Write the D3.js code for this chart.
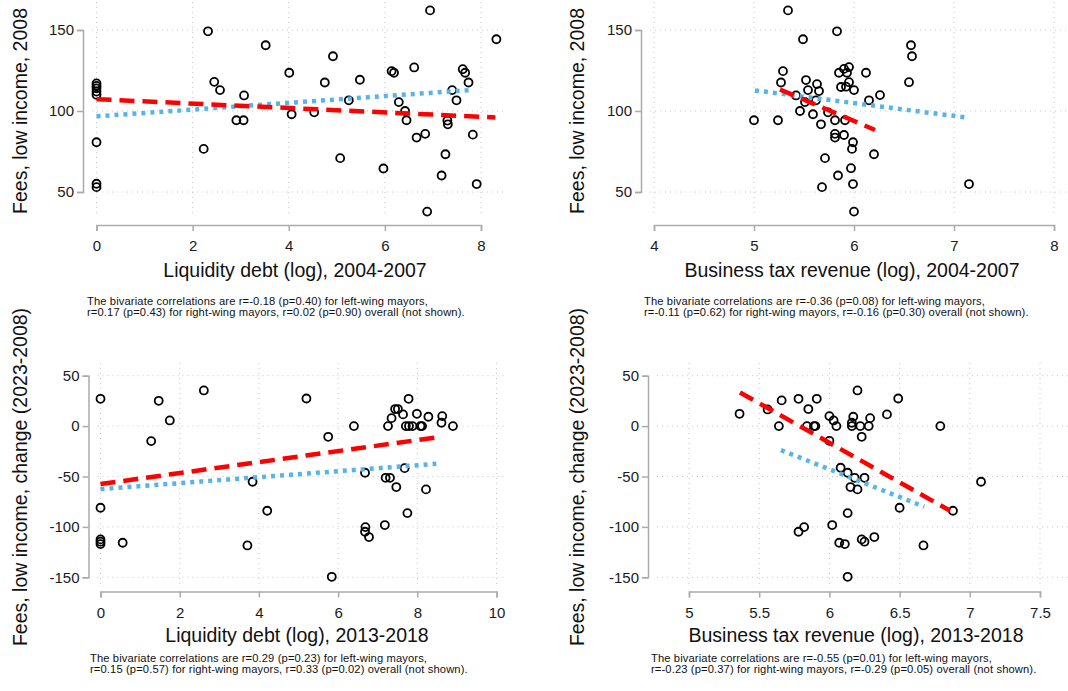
<!DOCTYPE html>
<html>
<head>
<meta charset="utf-8">
<script src="https://cdn.jsdelivr.net/npm/d3@7"></script>
<style>
  html, body { margin: 0; padding: 0; background: #fff; }
  svg { display: block; font-family: "Liberation Sans", Arial, Helvetica, sans-serif; }
  .tick text { fill: #1a1a1a; }
</style>
</head>
<body>
<svg id="chart" width="1068" height="691"></svg>
<script>
// ---- Data: municipalities, fees for low-income households ----

// Liquidity debt (log), 2004-2007 vs fees 2008
const liqDebt0407 = [0, 0, 0, 0, 0, 0, 0, 0, 2.23, 2.32, 2.45, 2.57, 2.91, 3.06, 3.07, 3.52, 4.01, 4.06, 4.53, 4.75,
  4.92, 5.07, 5.25, 5.48, 5.97, 6.14, 6.19, 6.29, 6.42, 6.45, 6.61, 6.66, 6.84, 6.88, 6.94, 7.18, 7.26, 7.30, 7.31,
  7.40, 7.49, 7.62, 7.67, 7.74, 7.83, 7.91, 8.32];
const fees2008A = [117, 115.5, 114, 112, 110, 80.7, 55.1, 53, 76.6, 149.2, 118, 112.9, 94.3, 94.3, 109.6, 140.6, 123.6,
  98, 99.2, 117.6, 133.8, 70.9, 106.6, 119.3, 64.5, 124.6, 123.6, 105.5, 100, 94.3, 126.9, 83.6, 85.9, 37.9, 162.1,
  60.2, 73.3, 94.1, 91.8, 112.9, 106.6, 125.8, 123.6, 117.6, 85.4, 54.9, 144.3];

// Business tax revenue (log), 2004-2007 vs fees 2008
const bizTax0407 = [5.0, 5.24, 5.27, 5.29, 5.34, 5.42, 5.46, 5.49, 5.51, 5.52, 5.54, 5.59, 5.62, 5.63, 5.65, 5.67,
  5.71, 5.68, 5.74, 5.81, 5.81, 5.81, 5.83, 5.84, 5.85, 5.87, 5.9, 5.9, 5.91, 5.92, 5.93, 5.95, 5.95, 5.97, 5.98,
  5.99, 5.99, 6.0, 6.0, 6.12, 6.15, 6.2, 6.26, 6.55, 6.57, 6.58, 7.15];
const fees2008B = [94.3, 94.3, 117.6, 124.6, 162.1, 109.6, 100, 144.3, 105.5, 119.1, 112.9, 98, 106.6, 116.6, 112.3,
  91.8, 70.9, 53, 99.2, 94.3, 85.9, 83.6, 149.2, 60.2, 123.6, 114.8, 85.2, 126, 94.3, 115, 123.6, 117.8, 127.1, 64.7,
  76.6, 54.9, 80.7, 37.9, 112.9, 123.6, 106.6, 73.3, 109.8, 117.8, 140.6, 133.8, 54.9];

// Liquidity debt (log), 2013-2018 vs change in fees 2008-2023
const liqDebt1318 = [0, 0, 0, 0, 0, 0.56, 1.28, 1.47, 1.75, 2.61, 3.71, 3.84, 4.21, 5.2, 5.75, 5.84, 6.4, 6.68, 6.69,
  6.68, 6.78, 7.18, 7.2, 7.26, 7.31, 7.35, 7.44, 7.47, 7.51, 7.64, 7.68, 7.71, 7.75, 7.78, 7.79, 7.88, 7.99, 8.08,
  8.12, 8.22, 8.28, 8.61, 8.63, 8.9];
const feeChangeC = [27.1, -81, -112.4, -114.7, -117, -115.7, -14.9, 25.1, 5.6, 35.4, -118.4, -55.2, -84, 27.4, -10.6,
  -149.5, 0, -46.3, -100.2, -104.8, -110.1, -98.2, -51.3, 0, -51.3, 7.9, 16.9, -60.5, 16.9, 11.6, -41.7, 0, -86.3,
  27.1, 0, 0, 12.2, 0, 0, -62.8, 9.3, 3.3, 9.9, 0];

// Business tax revenue (log), 2013-2018 vs change in fees 2008-2023
const bizTax1318 = [5.36, 5.56, 5.64, 5.66, 5.78, 5.78, 5.82, 5.85, 5.84, 5.89, 5.9, 5.91, 6.0, 6.0, 6.02, 6.03, 6.05,
  6.07, 6.08, 6.11, 6.13, 6.13, 6.13, 6.15, 6.16, 6.16, 6.17, 6.18, 6.2, 6.2, 6.22, 6.23, 6.23, 6.25, 6.25, 6.28,
  6.29, 6.32, 6.41, 6.49, 6.5, 6.67, 6.79, 6.88, 7.08];
const feeChangeD = [12.2, 16.5, 0, 25.5, 27.1, -104.8, -100.2, 16.9, 0, 0, 0, 27.1, -14.6, 9.9, -98.2, 5.6, 0, -115.7,
  -41.3, -117, -86.3, -46.3, -149.5, -60.5, 0, 3.3, 9.3, -51.3, 35.4, -62.8, 0, -10.6, -112.4, -114.7, -51.3, 0, 7.9,
  -110.1, 11.6, 27.4, -81, -118.4, 0, -84, -55.2];

// Linear fits by mayor's party: [x start, y start, x end, y end]
const fitLeftA = [0, 107.3, 8.3, 96];
const fitRightA = [0, 96.7, 7.76, 112.9];
const fitLeftB = [5.26, 113.3, 6.21, 88.3];
const fitRightB = [5.01, 112.7, 7.11, 96.1];
const fitLeftC = [0, -57.5, 8.6, -10.6];
const fitRightC = [0, -62.5, 8.48, -37.4];
const fitLeftD = [5.363, 33.4, 6.86, -84];
const fitRightD = [5.655, -23.8, 6.676, -80];

// Tick values
const ticksXA = [0, 2, 4, 6, 8];
const ticksXB = [4, 5, 6, 7, 8];
const ticksXC = [0, 2, 4, 6, 8, 10];
const ticksXD = [5, 5.5, 6, 6.5, 7, 7.5];
const ticksYTop = [50, 100, 150];
const ticksYBottom = [-150, -100, -50, 0, 50];

// Text
const xTitles = ["Liquidity debt (log), 2004-2007", "Business tax revenue (log), 2004-2007",
  "Liquidity debt (log), 2013-2018", "Business tax revenue (log), 2013-2018"];
const yTitles = ["Fees, low income, 2008", "Fees, low income, 2008",
  "Fees, low income, change (2023-2008)", "Fees, low income, change (2023-2008)"];
const notes = [
  ["The bivariate correlations are r=-0.18 (p=0.40) for left-wing mayors,",
   "r=0.17 (p=0.43) for right-wing mayors, r=0.02 (p=0.90) overall (not shown)."],
  ["The bivariate correlations are r=-0.36 (p=0.08) for left-wing mayors,",
   "r=-0.11 (p=0.62) for right-wing mayors, r=-0.16 (p=0.30) overall (not shown)."],
  ["The bivariate correlations are r=0.29 (p=0.23) for left-wing mayors,",
   "r=0.15 (p=0.57) for right-wing mayors, r=0.33 (p=0.02) overall (not shown)."],
  ["The bivariate correlations are r=-0.55 (p=0.01) for left-wing mayors,",
   "r=-0.23 (p=0.37) for right-wing mayors, r=-0.29 (p=0.05) overall (not shown)."]
];

// ---- Layout of the four panels ----
const panels = [
  { xs: liqDebt0407, ys: fees2008A, fitL: fitLeftA, fitR: fitRightA, xTicks: ticksXA, yTicks: ticksYTop,
    xDom: [0, 8], xRange: [96.5, 481], yDom: [50, 150], yRange: [192, 30],
    axisX: 83, axisY: 225, plotTop: 2, plotRight: 505, gridBottom: 217,
    xTitleX: 295, xTitleY: 270, yTitleX: 27, yTitleMid: 111, noteX: 87, noteY: 304.5 },
  { xs: bizTax0407, ys: fees2008B, fitL: fitLeftB, fitR: fitRightB, xTicks: ticksXB, yTicks: ticksYTop,
    xDom: [4, 8], xRange: [654, 1054], yDom: [50, 150], yRange: [192, 30],
    axisX: 641, axisY: 225, plotTop: 2, plotRight: 1068, gridBottom: 217,
    xTitleX: 852, xTitleY: 270, yTitleX: 584, yTitleMid: 111, noteX: 644, noteY: 304.5 },
  { xs: liqDebt1318, ys: feeChangeC, fitL: fitLeftC, fitR: fitRightC, xTicks: ticksXC, yTicks: ticksYBottom,
    xDom: [0, 10], xRange: [100.5, 496.5], yDom: [-150, 50], yRange: [577.3, 375.7],
    axisX: 88.5, axisY: 591.5, plotTop: 363, plotRight: 505, gridBottom: 584,
    xTitleX: 297, xTitleY: 635, yTitleX: 27, yTitleMid: 477, noteX: 90, noteY: 661.5 },
  { xs: bizTax1318, ys: feeChangeD, fitL: fitLeftD, fitR: fitRightD, xTicks: ticksXD, yTicks: ticksYBottom,
    xDom: [5, 7.5], xRange: [689, 1040], yDom: [-150, 50], yRange: [577.3, 375.7],
    axisX: 648, axisY: 591.5, plotTop: 363, plotRight: 1068, gridBottom: 584,
    xTitleX: 856, xTitleY: 635, yTitleX: 584, yTitleMid: 477, noteX: 651, noteY: 661.5 }
];

const svg = d3.select("#chart");
const axisColor = "#ababab";

panels.forEach((p, i) => {
  const x = d3.scaleLinear().domain(p.xDom).range(p.xRange);
  const y = d3.scaleLinear().domain(p.yDom).range(p.yRange);
  const g = svg.append("g");

  // dotted grid
  const grid = g.append("g").attr("stroke", "#c8c8c8").attr("stroke-width", 1)
    .attr("stroke-dasharray", "1,4");
  grid.selectAll("line.h").data(p.yTicks).join("line").attr("class", "h")
    .attr("x1", p.axisX + 9).attr("x2", p.plotRight)
    .attr("y1", d => y(d)).attr("y2", d => y(d));
  grid.selectAll("line.v").data(p.xTicks).join("line").attr("class", "v")
    .attr("x1", d => x(d)).attr("x2", d => x(d))
    .attr("y1", p.plotTop).attr("y2", p.gridBottom);

  // axes
  const ax = g.append("g").attr("transform", `translate(0,${p.axisY})`)
    .call(d3.axisBottom(x).tickValues(p.xTicks).tickSize(6).tickPadding(5).tickFormat(d => String(d)));
  const ay = g.append("g").attr("transform", `translate(${p.axisX},0)`)
    .call(d3.axisLeft(y).tickValues(p.yTicks).tickSize(6).tickPadding(3).tickFormat(d => String(d)));
  [ax, ay].forEach(a => {
    a.select(".domain").attr("stroke", axisColor).attr("stroke-width", 1.5);
    a.selectAll(".tick line").attr("stroke", axisColor).attr("stroke-width", 1.5);
    a.selectAll(".tick text").attr("font-size", 15).attr("font-family", "Liberation Sans, Arial, sans-serif");
  });
  ax.selectAll(".tick text").attr("dy", "1.0em");

  // axis titles
  g.append("text").attr("x", p.xTitleX).attr("y", p.xTitleY)
    .attr("dy", "0.35em").attr("text-anchor", "middle").attr("font-size", 19.5).attr("fill", "#111")
    .text(xTitles[i]);
  g.append("text").attr("transform", `translate(${p.yTitleX},${p.yTitleMid}) rotate(-90)`)
    .attr("text-anchor", "middle").attr("font-size", 19.5).attr("fill", "#111")
    .text(yTitles[i]);

  // points
  g.append("g").selectAll("circle").data(p.xs.map((v, k) => [v, p.ys[k]])).join("circle")
    .attr("cx", d => x(d[0])).attr("cy", d => y(d[1])).attr("r", 4)
    .attr("fill", "none").attr("stroke", "#000").attr("stroke-width", 1.8);

  // fitted lines: right-wing (blue dotted), left-wing (red dashed)
  g.append("line")
    .attr("x1", x(p.fitR[0])).attr("y1", y(p.fitR[1])).attr("x2", x(p.fitR[2])).attr("y2", y(p.fitR[3]))
    .attr("stroke", "#56B4E9").attr("stroke-width", 4.5).attr("stroke-dasharray", "4,5");
  g.append("line")
    .attr("x1", x(p.fitL[0])).attr("y1", y(p.fitL[1])).attr("x2", x(p.fitL[2])).attr("y2", y(p.fitL[3]))
    .attr("stroke", "#ff0000").attr("stroke-width", 4.5).attr("stroke-dasharray", "15,8");

  // note under the panel, two lines
  notes[i].forEach((line, k) => {
    g.append("text").attr("x", p.noteX).attr("y", p.noteY + k * 11.3)
      .attr("font-size", 11.2).attr("letter-spacing", 0.12).attr("fill", "#111").text(line);
  });
});
</script>
</body>
</html>
